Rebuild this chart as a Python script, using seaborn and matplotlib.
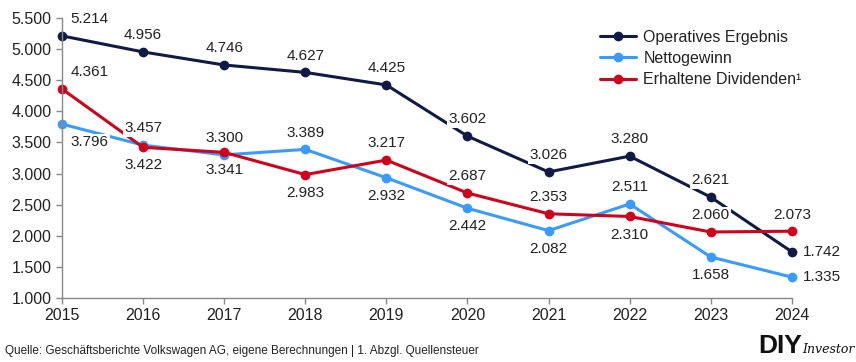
import pandas as pd
import seaborn as sns
import matplotlib.pyplot as plt

# values in Mio. EUR
years = [2015, 2016, 2017, 2018, 2019, 2020, 2021, 2022, 2023, 2024]
operatives = [5214, 4956, 4746, 4627, 4425, 3602, 3026, 3280, 2621, 1742]
netto = [3796, 3457, 3300, 3389, 2932, 2442, 2082, 2511, 1658, 1335]
dividenden = [4361, 3422, 3341, 2983, 3217, 2687, 2353, 2310, 2060, 2073]
series_names = ["Operatives Ergebnis", "Nettogewinn", "Erhaltene Dividenden¹"]
colors = ["#101a46", "#3a9bff", "#d0021b"]

# where each data label sits: a = above, b = below, r = right
pos_op = ["a"] * 9 + ["r"]
pos_net = ["b", "a", "a", "a", "b", "b", "b", "a", "b", "r"]
pos_div = ["a", "b", "b", "b", "a", "a", "a", "b", "a", "a"]

df = pd.DataFrame({
    "Jahr": years * 3,
    "Wert": operatives + netto + dividenden,
    "Serie": [series_names[0]] * 10 + [series_names[1]] * 10 + [series_names[2]] * 10,
})

sns.set_style("white")
plt.rcParams["font.family"] = ["Liberation Sans", "DejaVu Sans"]

fig = plt.figure(figsize=(8.56, 3.62), dpi=100)
ax = fig.add_axes([0.0724, 0.177, 0.8526, 0.773])

sns.lineplot(data=df, x="Jahr", y="Wert", hue="Serie", palette=colors,
             marker="o", markersize=7, markeredgewidth=0, linewidth=2.2, ax=ax)

def de(v):
    return f"{v:,}".replace(",", ".")

box = dict(boxstyle="square,pad=0.1", fc="white", ec="none")
for vals, poss in [(operatives, pos_op), (netto, pos_net), (dividenden, pos_div)]:
    for x, v, p in zip(years, vals, poss):
        dx = 20 if x == 2015 else 0
        if p == "a":
            off, ha = (dx, 12), "center"
        elif p == "b":
            off, ha = (dx, -13), "center"
        else:
            off, ha = (8, 0), "left"
        ax.annotate(de(v), (x, v), xytext=off, textcoords="offset points",
                    ha=ha, va="center", fontsize=11, color="#222222", bbox=box, zorder=5)

ax.set_xlim(2015, 2024)
ax.set_ylim(1000, 5500)
ax.set_xticks(years)
ax.set_yticks(range(1000, 5501, 500))
ax.set_yticklabels([de(v) for v in range(1000, 5501, 500)])
ax.set_xlabel("")
ax.set_ylabel("")
ax.tick_params(axis="both", labelsize=11.5, colors="#222222", length=4, width=1,
               direction="out", left=True, bottom=True)
ax.tick_params(axis="both", color="#888888")
for s in ["top", "right"]:
    ax.spines[s].set_visible(False)
for s in ["left", "bottom"]:
    ax.spines[s].set_color("#888888")
    ax.spines[s].set_linewidth(1)
for ln in ax.lines:
    ln.set_clip_on(False)

leg = ax.legend(loc="upper left", bbox_to_anchor=(0.718, 1.01), frameon=False,
                fontsize=11.5, handlelength=2.2, handletextpad=0.5, labelspacing=0.4)
for t in leg.get_texts():
    t.set_color("#222222")

fig.text(0.006, 0.03, "Quelle: Geschäftsberichte Volkswagen AG, eigene Berechnungen | 1. Abzgl. Quellensteuer",
         fontsize=8.5, color="#222222", va="center")
fig.text(0.886, 0.045, "DIY", fontsize=19, fontweight="heavy", color="#111111", va="center",
         family=["Liberation Sans Narrow", "Liberation Sans"])
fig.text(0.937, 0.035, "Investor", fontsize=9, style="italic", family="DejaVu Serif",
         color="#111111", va="center")

fig.savefig("out.png", dpi=100)
